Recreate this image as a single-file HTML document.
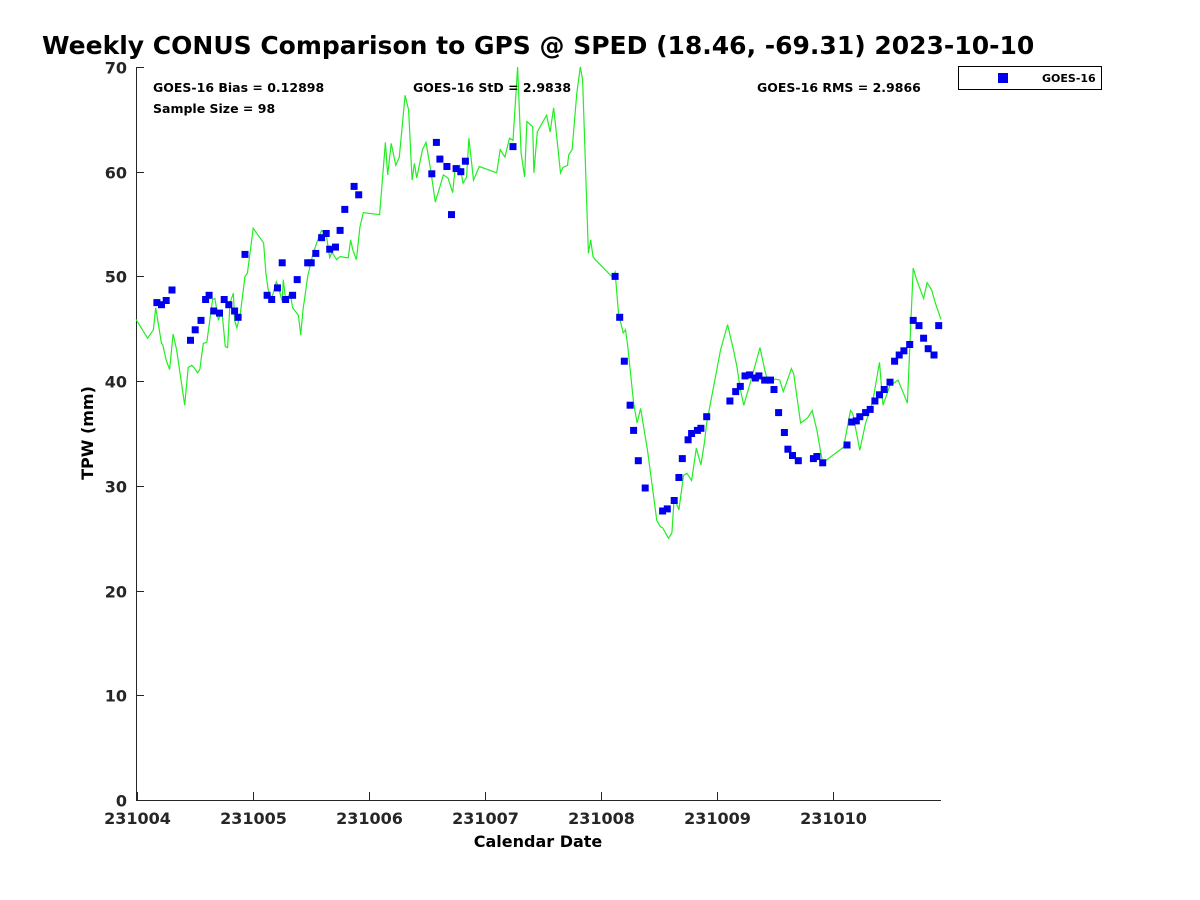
<!DOCTYPE html>
<html><head><meta charset="utf-8"><style>
body{margin:0;background:#fff;}
svg{display:block;font-family:"DejaVu Sans","Liberation Sans",sans-serif;}
</style></head><body>
<svg id="chart" width="1200" height="900">
<text x="42" y="54" font-size="25" font-weight="bold">Weekly CONUS Comparison to GPS @ SPED (18.46, -69.31) 2023-10-10</text>
<g id="axes"></g>
<g id="marks"></g>
<text x="153" y="92" font-size="12.5" font-weight="bold">GOES-16 Bias = 0.12898</text>
<text x="153" y="113" font-size="12.5" font-weight="bold">Sample Size = 98</text>
<text x="413" y="92" font-size="12.5" font-weight="bold">GOES-16 StD = 2.9838</text>
<text x="757" y="92" font-size="12.5" font-weight="bold">GOES-16 RMS = 2.9866</text>
<g>
<rect x="958.5" y="66.5" width="143" height="23" fill="#fff" stroke="#000" stroke-width="1"/>
<rect x="998" y="73" width="10" height="10" fill="#0000ee"/>
<text x="1042" y="82" font-size="11" font-weight="bold">GOES-16</text>
</g>
<text x="538" y="847" font-size="16" font-weight="bold" text-anchor="middle">Calendar Date</text>
<text transform="translate(93,433) rotate(-90)" font-size="16" font-weight="bold" text-anchor="middle">TPW (mm)</text>
</svg>
<script>
const xTicks=[0,1,2,3,4,5,6];
const xTickLabels=["231004","231005","231006","231007","231008","231009","231010"];
const yTicks=[0,10,20,30,40,50,60,70];
const goesDays=[0.17,0.21,0.25,0.30,0.46,0.50,0.55,0.59,0.62,0.66,0.71,0.75,0.79,0.84,0.87,0.93,1.12,1.16,1.21,1.25,1.28,1.34,1.38,1.47,1.50,1.54,1.59,1.63,1.66,1.71,1.75,1.79,1.87,1.91,2.54,2.58,2.61,2.67,2.71,2.75,2.79,2.83,3.24,4.12,4.16,4.20,4.25,4.28,4.32,4.38,4.53,4.57,4.63,4.67,4.70,4.75,4.78,4.83,4.86,4.91,5.11,5.16,5.20,5.24,5.28,5.33,5.36,5.41,5.46,5.49,5.53,5.58,5.61,5.65,5.70,5.83,5.86,5.91,6.12,6.16,6.20,6.23,6.28,6.32,6.36,6.40,6.44,6.49,6.53,6.57,6.61,6.66,6.69,6.74,6.78,6.82,6.87,6.91];
const goesTPW=[47.5,47.3,47.7,48.7,43.9,44.9,45.8,47.8,48.2,46.7,46.5,47.8,47.3,46.7,46.1,52.1,48.2,47.8,48.9,51.3,47.8,48.2,49.7,51.3,51.3,52.2,53.7,54.1,52.6,52.8,54.4,56.4,58.6,57.8,59.8,62.8,61.2,60.5,55.9,60.3,60.0,61.0,62.4,50.0,46.1,41.9,37.7,35.3,32.4,29.8,27.6,27.8,28.6,30.8,32.6,34.4,35.0,35.3,35.5,36.6,38.1,39.0,39.5,40.5,40.6,40.3,40.5,40.1,40.1,39.2,37.0,35.1,33.5,32.9,32.4,32.6,32.8,32.2,33.9,36.1,36.2,36.6,37.0,37.3,38.1,38.7,39.2,39.9,41.9,42.5,42.9,43.5,45.8,45.3,44.1,43.1,42.5,45.3];
const gpsDays=[-0.01,0.09,0.14,0.16,0.21,0.22,0.25,0.28,0.31,0.34,0.41,0.44,0.47,0.49,0.52,0.54,0.57,0.60,0.65,0.67,0.70,0.73,0.76,0.78,0.80,0.83,0.84,0.86,0.89,0.93,0.95,1.00,1.09,1.11,1.13,1.16,1.20,1.22,1.25,1.26,1.28,1.32,1.34,1.39,1.41,1.43,1.47,1.51,1.55,1.59,1.63,1.66,1.68,1.72,1.75,1.80,1.82,1.84,1.86,1.89,1.92,1.95,2.09,2.14,2.16,2.19,2.23,2.26,2.31,2.34,2.37,2.39,2.41,2.46,2.49,2.53,2.57,2.64,2.68,2.72,2.74,2.78,2.81,2.84,2.86,2.90,2.95,3.10,3.13,3.17,3.21,3.24,3.28,3.31,3.34,3.36,3.41,3.42,3.45,3.53,3.56,3.59,3.60,3.65,3.67,3.71,3.72,3.75,3.79,3.82,3.84,3.89,3.91,3.93,3.95,4.10,4.12,4.15,4.19,4.21,4.23,4.28,4.31,4.34,4.40,4.48,4.51,4.53,4.58,4.61,4.63,4.67,4.71,4.74,4.78,4.82,4.86,4.89,4.91,5.03,5.09,5.14,5.17,5.20,5.23,5.30,5.37,5.41,5.44,5.50,5.54,5.57,5.60,5.64,5.66,5.72,5.78,5.82,5.86,5.89,5.91,6.09,6.15,6.17,6.23,6.28,6.34,6.40,6.43,6.49,6.56,6.64,6.69,6.72,6.78,6.81,6.85,6.88,6.93];
const gpsTPW=[45.9,44.1,44.9,47.0,43.6,43.5,42.0,41.1,44.5,43.0,37.7,41.3,41.5,41.3,40.8,41.1,43.6,43.7,47.8,47.9,45.8,46.8,43.3,43.2,47.5,48.4,45.8,45.1,46.5,50.0,50.3,54.6,53.2,50.3,48.7,47.9,49.5,48.9,47.6,49.7,47.8,48.4,47.0,46.3,44.4,46.8,50.0,51.9,53.3,54.4,54.0,51.8,52.3,51.6,51.9,51.8,51.8,53.5,52.5,51.6,54.7,56.1,55.9,62.8,59.7,62.7,60.6,61.4,67.3,65.9,59.2,60.8,59.4,62.1,62.8,60.2,57.1,59.7,59.4,58.0,60.2,60.6,58.9,59.5,63.2,59.2,60.5,59.9,62.1,61.4,63.2,63.0,70.0,61.8,59.5,64.8,64.3,59.9,63.8,65.4,63.8,66.1,65.2,59.9,60.4,60.6,61.6,62.1,67.5,70.0,68.8,52.2,53.5,51.9,51.6,49.9,50.4,46.5,44.6,44.9,43.3,37.9,36.0,37.4,33.4,26.7,26.1,26.0,25.0,25.5,28.9,27.7,31.0,31.2,30.5,33.6,32.0,34.1,36.0,43.0,45.4,43.0,41.4,39.2,37.7,40.4,43.2,41.1,39.8,40.2,40.1,39.0,39.9,41.2,40.7,36.0,36.5,37.2,35.3,33.4,32.2,33.7,37.2,36.9,33.4,36.0,38.0,41.8,37.7,39.6,40.1,37.9,50.8,49.7,47.9,49.4,48.7,47.5,45.9];

const X0=136,X1=941,Y0=800,Y1=67,DMIN=-0.01,DMAX=6.93,VMIN=0,VMAX=70;
function xScale(d){return X0+(d-DMIN)/(DMAX-DMIN)*(X1-X0);}
function yScale(v){return Y0-(v-VMIN)/(VMAX-VMIN)*(Y0-Y1);}
const NS="http://www.w3.org/2000/svg";
const axes=document.getElementById('axes'),marks=document.getElementById('marks');
function mk(t,a,p){const e=document.createElementNS(NS,t);for(const k in a)e.setAttribute(k,a[k]);p.appendChild(e);return e;}

const ax=mk('path',{d:`M${X0+0.5},${Y1} V${Y0+0.5} H${X1}`,fill:'none',stroke:'#262626','stroke-width':1},axes);


yTicks.forEach(v=>{
  const y=Math.round(yScale(v))+0.5;
  const t=mk('line',{x1:X0,x2:X0+8,y1:y,y2:y,stroke:'#262626'},axes);
  
  
  const l=mk('text',{x:X0-9,y:y+6,'font-size':16,'font-weight':'bold','text-anchor':'end',fill:'#262626'},axes);
  l.textContent=v;
  
  
});
xTicks.forEach((d,i)=>{
  const x=Math.round(xScale(d))+0.5;
  const t=mk('line',{x1:x,x2:x,y1:Y0,y2:Y0-8,stroke:'#262626'},axes);
  
  
  const l=mk('text',{x:x,y:Y0+24,'font-size':16,'font-weight':'bold','text-anchor':'middle',fill:'#262626'},axes);
  l.textContent=xTickLabels[i];
  
  
});
const pts=gpsDays.map((d,i)=>xScale(d).toFixed(1)+','+yScale(gpsTPW[i]).toFixed(1)).join(' ');
const pl=mk('polyline',{points:pts,fill:'none',stroke:'#22ee22','stroke-width':1.2},marks);


goesDays.forEach((d,i)=>{
  const r=mk('rect',{x:(xScale(d)-3.5).toFixed(1),y:(yScale(goesTPW[i])-3.5).toFixed(1),width:7,height:7,fill:'#0000ee'},marks);
  
  
});
</script>
</body></html>
